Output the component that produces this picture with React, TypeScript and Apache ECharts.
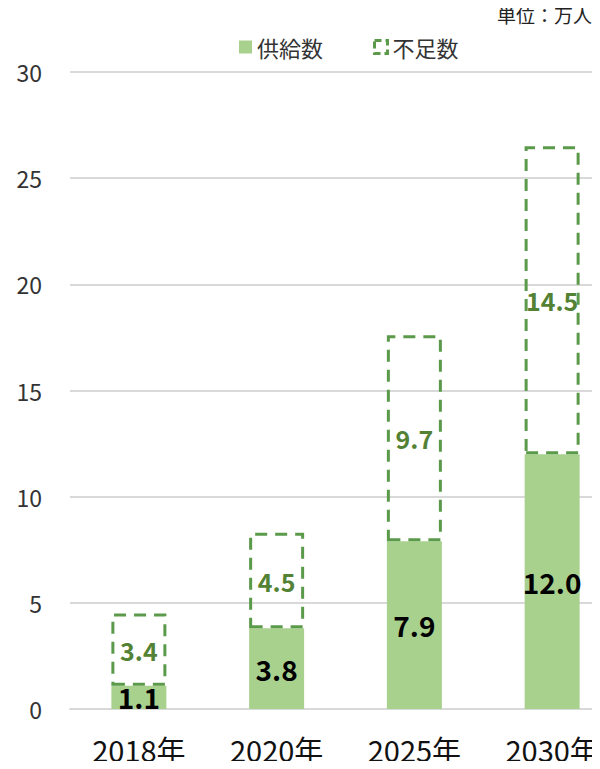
import React, { useEffect, useRef } from "react";
import * as echarts from "echarts";

const categories = ["2018年", "2020年", "2025年", "2030年"];
const supply = [1.1, 3.8, 7.9, 12.0];
const shortage = [3.4, 4.5, 9.7, 14.5];
const yTicks = [0, 5, 10, 15, 20, 25, 30];

const FONT = '"Noto Sans CJK JP", "Noto Sans", sans-serif';

export default function App() {
  const ref = useRef<HTMLDivElement>(null);
  useEffect(() => {
    const chart = echarts.init(ref.current!, null, { renderer: "svg" });
    chart.setOption({
      animation: false,
      textStyle: { fontFamily: FONT },
      graphic: [
        {
          type: "text",
          left: 497,
          top: 5,
          style: { text: "単位：万人", fontSize: 19, fill: "#222", fontFamily: FONT },
        },
      ],
      legend: {
        top: 31,
        left: 234,
        itemGap: 50,
        itemWidth: 13,
        itemHeight: 13,
        textStyle: { fontSize: 22, color: "#333", fontFamily: FONT },
        data: [
          { name: "供給数", icon: "rect", itemStyle: { color: "#a9d18e", borderWidth: 0 } },
          {
            name: "不足数",
            icon: "rect",
            itemStyle: { color: "rgba(0,0,0,0)", borderColor: "#5b9a4a", borderWidth: 3, borderType: [7, 4] },
          },
        ],
      },
      grid: { left: 70, right: 0, top: 72, bottom: 60, containLabel: false },
      xAxis: {
        type: "category",
        data: categories,
        axisLine: { lineStyle: { color: "#d9d9d9", width: 2 } },
        axisTick: { show: false },
        axisLabel: { fontSize: 29, color: "#111", margin: 25, fontFamily: FONT },
      },
      yAxis: {
        type: "value",
        min: yTicks[0],
        max: yTicks[yTicks.length - 1],
        interval: 5,
        axisLine: { show: false },
        axisTick: { show: false },
        splitLine: { lineStyle: { color: "#d9d9d9", width: 2 } },
        axisLabel: { fontSize: 23, color: "#333", margin: 28, fontFamily: FONT },
      },
      series: [
        {
          name: "供給数",
          type: "bar",
          stack: "total",
          data: supply,
          barWidth: 55,
          itemStyle: { color: "#a9d18e" },
          label: {
            show: true,
            position: "inside",
            fontSize: 28,
            fontWeight: "bold",
            color: "#000",
            fontFamily: FONT,
            formatter: (p: any) => p.value.toFixed(1),
          },
        },
        {
          name: "不足数",
          type: "bar",
          stack: "total",
          data: shortage,
          barWidth: 55,
          itemStyle: {
            color: "rgba(0,0,0,0)",
            borderColor: "#5b9a4a",
            borderWidth: 3,
            borderType: [12, 8],
          },
          label: {
            show: true,
            position: "inside",
            fontSize: 25,
            fontWeight: "bold",
            color: "#548235",
            fontFamily: FONT,
            formatter: (p: any) => p.value.toFixed(1),
          },
        },
      ],
    });
    return () => chart.dispose();
  }, []);
  return (
    <div style={{ width: 600, height: 769, margin: -8, overflow: "hidden", position: "relative" }}>
      <div ref={ref} style={{ width: 621, height: 769 }} />
    </div>
  );
}
